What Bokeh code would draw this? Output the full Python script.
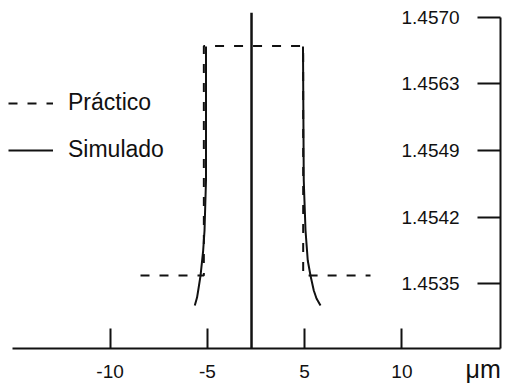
from bokeh.plotting import figure
from bokeh.models import (Range1d, FixedTicker, Span, Legend, LegendItem, LinearAxis)
from bokeh.embed import file_html
from bokeh.resources import INLINE

# ---- data (x in plot units where ticks are evenly spaced; y in tick-level units) ----
x_tick_pos = [-15, -5, 5, 15]
x_tick_labels = ["-10", "-5", "5", "10"]
y_tick_pos = [0, 1, 2, 3, 4]
y_tick_labels = ["1.4535", "1.4542", "1.4549", "1.4563", "1.4570"]

practico_x = [-11.87, -5.36, -5.36, 4.85, 4.85, 11.77]
practico_y = [0.12, 0.12, 3.57, 3.57, 0.12, 0.12]

sim_left_x = [-5.14, -5.14, -5.29, -5.43, -5.70, -5.94, -6.06, -6.29]
sim_left_y = [3.564, 1.549, 0.797, 0.496, 0.120, -0.105, -0.211, -0.331]
sim_right_x = [4.83, 4.91, 4.98, 5.09, 5.32, 5.60, 5.94, 6.22, 6.63]
sim_right_y = [3.564, 1.549, 1.248, 0.797, 0.346, 0.120, -0.105, -0.226, -0.331]

center_x = -0.46
unit_label = "μm"
unit_label_pos = 23.35

FONT = "Liberation Sans"
INK = "#111111"

p = figure(width=505, height=386, output_backend="svg", toolbar_location=None,
           x_range=Range1d(-26.26, 25.13), y_range=Range1d(-0.977, 4.075),
           y_axis_location="right", min_border_left=0, min_border_top=12,
           min_border_right=5, min_border_bottom=38)
p.outline_line_color = None
p.xgrid.visible = False
p.ygrid.visible = False
p.background_fill_color = "white"
p.border_fill_color = "white"

# x axis
xa = p.xaxis[0]
xa.ticker = FixedTicker(ticks=x_tick_pos)
xa.major_label_overrides = {t: l for t, l in zip(x_tick_pos, x_tick_labels)}
xa.major_tick_in = 20
xa.major_tick_out = 0
xa.minor_tick_line_color = None
xa.bounds = (-25.03, 25.13)
xa.axis_line_width = 2
xa.major_tick_line_width = 2
xa.axis_line_color = INK
xa.major_tick_line_color = INK
xa.major_label_text_font = FONT
xa.major_label_text_font_size = "19px"
xa.major_label_text_color = INK
xa.major_label_standoff = 16

# unit label as a second, line-less axis whose only label is the unit
ua = LinearAxis(ticker=FixedTicker(ticks=[unit_label_pos]),
                major_label_overrides={unit_label_pos: unit_label},
                axis_line_color=None, major_tick_line_color=None,
                minor_tick_line_color=None, major_tick_in=0, major_tick_out=0,
                major_label_text_font=FONT, major_label_text_font_size="25px",
                major_label_text_color=INK, major_label_standoff=-26)
p.add_layout(ua, "below")

# y axis (right)
ya = p.yaxis[0]
ya.ticker = FixedTicker(ticks=y_tick_pos)
ya.major_label_overrides = {t: l for t, l in zip(y_tick_pos, y_tick_labels)}
ya.major_tick_in = 23
ya.major_tick_out = 0
ya.minor_tick_line_color = None
ya.bounds = (-0.977, 4.0)
ya.axis_line_width = 2
ya.major_tick_line_width = 2
ya.axis_line_color = INK
ya.major_tick_line_color = INK
ya.major_label_text_font = FONT
ya.major_label_text_font_size = "19px"
ya.major_label_text_color = INK
ya.major_label_standoff = -99

# center line
p.add_layout(Span(location=center_x, dimension="height", line_color=INK, line_width=2.5))

r_prac = p.line(practico_x, practico_y, line_color=INK, line_width=2, line_dash="9 10")
r_sl = p.line(sim_left_x, sim_left_y, line_color=INK, line_width=2)
r_sr = p.line(sim_right_x, sim_right_y, line_color=INK, line_width=2)

legend = Legend(items=[LegendItem(label="Práctico", renderers=[r_prac]),
                       LegendItem(label="Simulado", renderers=[r_sl])],
                location=(8, 185), padding=0, margin=0, spacing=20,
                glyph_width=45, glyph_height=20, label_height=20, label_standoff=15,
                label_text_font=FONT, label_text_font_size="23px", label_text_color=INK,
                background_fill_alpha=0, border_line_alpha=0)
p.add_layout(legend, "center")

open("out.html", "w").write(file_html(p, INLINE))
